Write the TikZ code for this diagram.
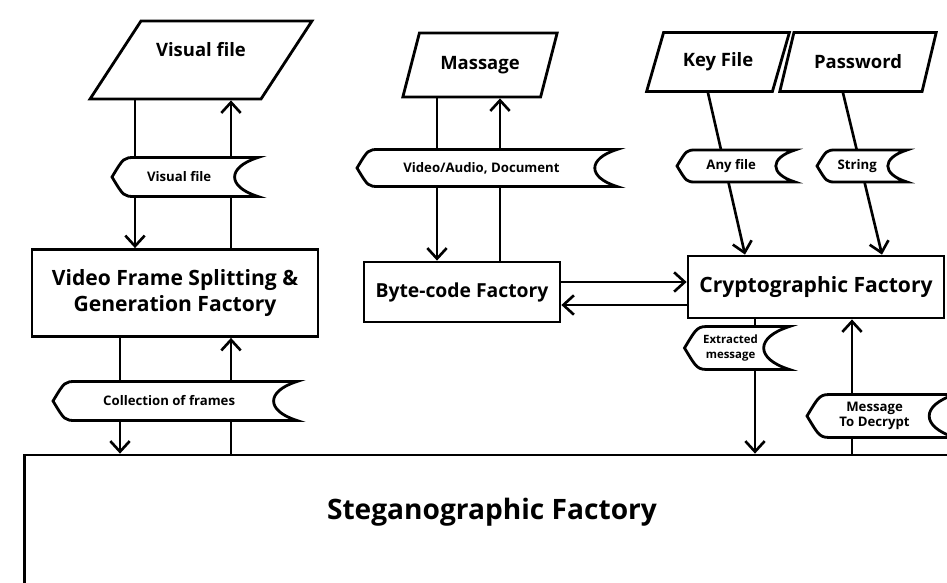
\documentclass[tikz,border=0pt]{standalone}
\usepackage{fontspec}
\setmainfont{Open Sans}
\usetikzlibrary{shapes.geometric,arrows.meta,calc}

% data flow tag: name, x, y, width, height, text
\newcommand{\datatag}[6]{%
    \draw[tagline] ({#2-#4/2+0.6*#5},{#3-#5/2}) -- ({#2+#4/2},{#3-#5/2})
        .. controls ({#2+#4/2-0.8*#5},{#3-#5/4}) and ({#2+#4/2-0.8*#5},{#3+#5/4}) .. ({#2+#4/2},{#3+#5/2})
        -- ({#2-#4/2+0.6*#5},{#3+#5/2})
        .. controls ({#2-#4/2+0.3*#5},{#3+#5/2}) .. ({#2-#4/2},{#3})
        .. controls ({#2-#4/2+0.3*#5},{#3-#5/2}) .. cycle;
    \node[tagtext] (#1) at ({#2-0.15*#5},{#3}) {#6};
}

\tikzset{
    factory/.style={draw, line width=1.6pt, fill=white, align=center, font=\fontsize{12}{15}\selectfont\bfseries},
    bigbox/.style={draw, line width=1.6pt},
    stegtext/.style={font=\fontsize{16}{18}\selectfont\bfseries},
    datafile/.style={draw, line width=1.6pt, trapezium, trapezium left angle=67, trapezium right angle=113,
        trapezium stretches=true, font=\fontsize{10.5}{12}\selectfont\bfseries},
    tagline/.style={fill=white, line width=1.6pt},
    tagtext/.style={align=center, inner sep=0pt, font=\fontsize{7.5}{8.5}\selectfont\bfseries},
    flow/.style={->, line width=1.5pt},
}

\begin{document}
\begin{tikzpicture}[x=0.02cm, y=-0.02cm, >={Straight Barb[length=6pt,width=11pt]}]
    \useasboundingbox (0,0) rectangle (947,582);
    \clip (0,0) rectangle (947,582);

    % inputs
    \node[datafile, minimum width=4.44cm, minimum height=1.56cm,
        label={[font=\fontsize{10.5}{12}\selectfont\bfseries, yshift=0.2cm]center:Visual file}] (vfile) at (201,60) {};
    \node[datafile, minimum width=3.1cm, minimum height=1.28cm] (msg) at (480,65) {Massage};
    \node[datafile, minimum width=2.86cm, minimum height=1.18cm] (keyf) at (718,62) {Key File};
    \node[datafile, minimum width=3.14cm, minimum height=1.18cm] (pw) at (858,62) {Password};

    % factories
    \node[factory, minimum width=5.72cm, minimum height=1.74cm] (vsplit) at (175,293) {Video Frame Splitting \&\\Generation Factory};
    \node[factory, minimum width=3.92cm, minimum height=1.2cm, font=\fontsize{11}{13}\selectfont\bfseries] (byte) at (462,292) {Byte-code Factory};
    \node[factory, minimum width=5.12cm, minimum height=1.24cm] (crypto) at (816,287) {Cryptographic Factory};
    \node[bigbox, minimum width=18.7cm, minimum height=2.8cm,
        label={[stegtext, yshift=0.26cm]center:Steganographic Factory}] (steg) at (492,525) {};

    % line positions
    \coordinate (vfdown) at (135,0);
    \coordinate (vfup) at (231,0);
    \coordinate (frdown) at (120,0);
    \coordinate (msdown) at (437,0);
    \coordinate (msup) at (500,0);
    \coordinate (exdown) at (755,0);
    \coordinate (deup) at (852,0);
    \coordinate (keytop) at (708,0);
    \coordinate (keybot) at (745,0);
    \coordinate (pwtop) at (843,0);
    \coordinate (pwbot) at (882,0);
    \coordinate (enc) at (0,282);
    \coordinate (dec) at (0,305);

    % flows
    \draw[flow] (vfile.south -| vfdown) -- (vsplit.north -| vfdown);
    \draw[flow] (vsplit.north -| vfup) -- (vfile.south -| vfup);
    \draw[flow] (vsplit.south -| frdown) -- (steg.north -| frdown);
    \draw[flow] (steg.north -| vfup) -- (vsplit.south -| vfup);
    \draw[flow] (msg.south -| msdown) -- (byte.north -| msdown);
    \draw[flow] (byte.north -| msup) -- (msg.south -| msup);
    \draw[flow] (byte.east |- enc) -- (crypto.west |- enc);
    \draw[flow] (crypto.west |- dec) -- (byte.east |- dec);
    \draw[flow] (keyf.south -| keytop) -- (crypto.north -| keybot);
    \draw[flow] (pw.south -| pwtop) -- (crypto.north -| pwbot);
    \draw[flow] (crypto.south -| exdown) -- (steg.north -| exdown);
    \draw[flow] (steg.north -| deup) -- (crypto.south -| deup);

    % data on the flows
    \datatag{vftag}{185}{177}{146}{39}{Visual file}
    \datatag{avtag}{487}{168}{260}{37}{Video/Audio, Document}
    \datatag{kftag}{736}{166}{118}{32}{Any file}
    \datatag{pwtag}{862}{166}{90}{32}{String}
    \datatag{frtag}{175}{401}{244}{39}{Collection of frames}
    \datatag{extag}{737}{348}{105}{43}{\fontsize{6.5}{7.5}\selectfont Extracted\\\fontsize{6.5}{7.5}\selectfont message}
    \datatag{detag}{881}{416}{148}{43}{Message\\To Decrypt}
\end{tikzpicture}
\end{document}
